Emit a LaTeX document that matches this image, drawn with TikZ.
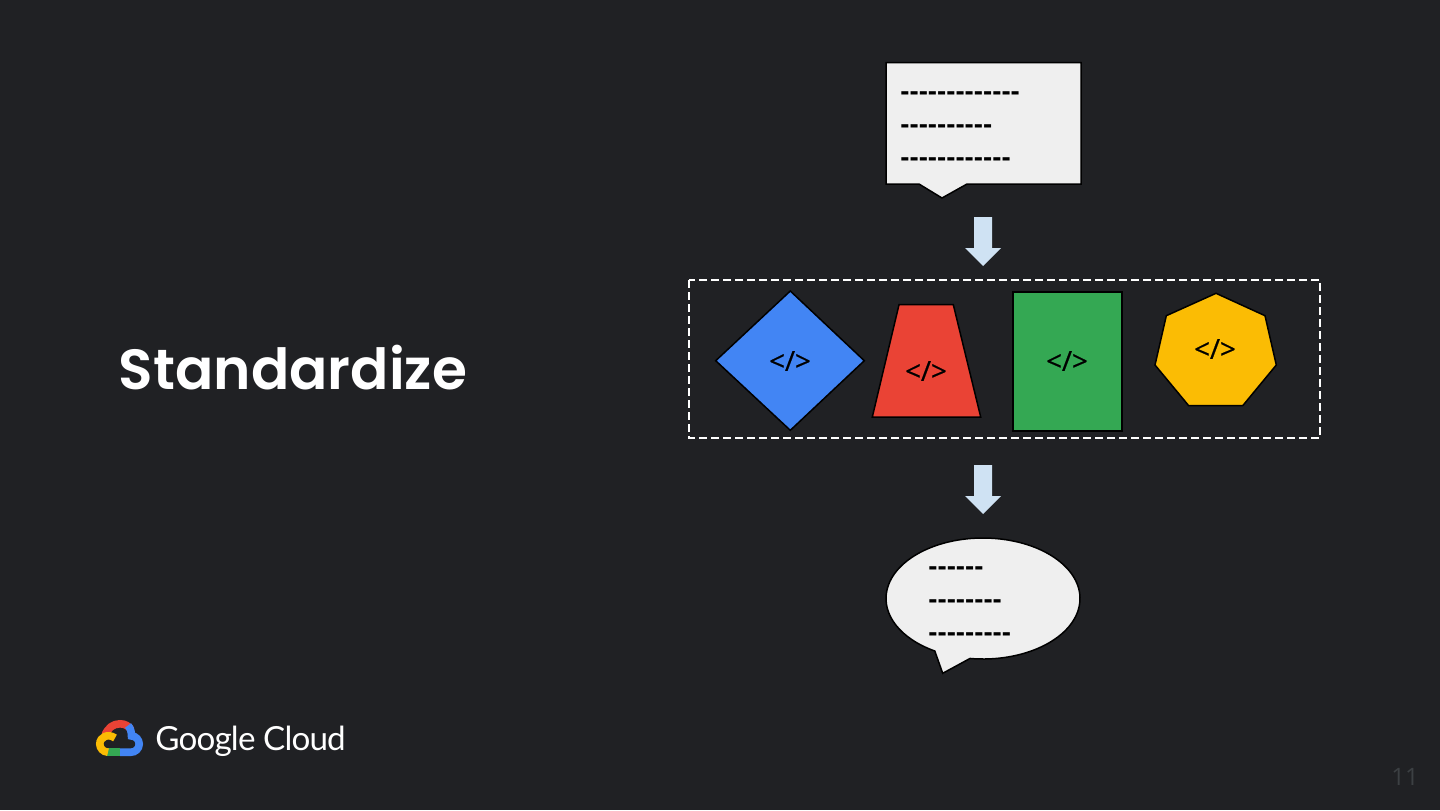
\documentclass[tikz,border=0pt]{standalone}
\usepackage{fontspec}
\setmainfont{Poppins}
\newfontfamily\titlefont{Poppins SemiBold}
\newfontfamily\dashfont{Liberation Sans Bold}
\newfontfamily\codefont[FakeBold=0.6]{Open Sans}
\newfontfamily\pagefont{Open Sans}
\newfontfamily\logofont[LetterSpace=-2.5]{Lato}
\definecolor{slidebg}{HTML}{202124}
\definecolor{bubblegrey}{HTML}{EFEFEF}
\definecolor{gblue}{HTML}{4285F4}
\definecolor{gred}{HTML}{EA4335}
\definecolor{ggreen}{HTML}{34A853}
\definecolor{gyellow}{HTML}{FBBC04}
\definecolor{arrowblue}{HTML}{CFE2F3}
\definecolor{pagegrey}{HTML}{3C4043}
\tikzset{
    outline/.style={draw=black, line width=0.75pt, line join=miter},
    bubble/.style={outline, fill=bubblegrey},
    dashtext/.style={inner sep=0pt, anchor=west, text=black, font=\dashfont\fontsize{13.8}{16}\selectfont},
    codetext/.style={inner sep=0pt, text=black, font=\codefont\fontsize{13.8}{16}\selectfont},
    downarrow/.style={fill=arrowblue},
    logostroke/.style={line width=3.8pt, line cap=butt},
}
\begin{document}
\begin{tikzpicture}[x=0.5pt, y=-0.5pt]
    \fill[slidebg] (0, 0) rectangle (1440, 810);
    \useasboundingbox (0, 0) rectangle (1440, 810);
    \node[inner sep=0pt, text=white, font=\titlefont\fontsize{28.3}{34}\selectfont] (title) at (293, 368) {Standardize};

    % request
    \draw[bubble] (886, 62.5) -- (1081, 62.5) -- (1081, 184) -- (967, 184) -- (942, 198) -- (919, 184) -- (886, 184) -- cycle;
    \foreach \y/\n/\txt in {96/reqa/-------------, 129/reqb/----------, 162/reqc/------------}
        \node[dashtext] (\n) at (900, \y) {\txt};

    % arrows
    \foreach \y in {0, 248}
        \fill[downarrow] (974, 217+\y) -- (992, 217+\y) -- (992, 248+\y) -- (1001, 248+\y) -- (983, 266+\y) -- (965, 248+\y) -- (974, 248+\y) -- cycle;

    % services
    \draw[white, line width=0.75pt, dash pattern=on 4pt off 2pt] (689, 280) rectangle (1320, 438);
    \draw[outline, fill=gblue] (790.3, 291) -- (864.3, 360.7) -- (790.3, 430.3) -- (715.7, 360.7) -- cycle;
    \draw[outline, fill=gred] (899, 304.7) -- (953.3, 304.7) -- (980.7, 417) -- (872.3, 417) -- cycle;
    \draw[outline, fill=ggreen, line width=1pt] (1013, 291.5) rectangle (1122, 430.7);
    \draw[outline, fill=gyellow] (1216, 293.3) -- (1265, 315.7) -- (1276.3, 365) -- (1242.7, 405.7) -- (1188.7, 405.7) -- (1155, 365) -- (1166.3, 315.7) -- cycle;
    \foreach \x/\y/\n in {790/361/codeblue, 926/371/codered, 1067/361/codegreen, 1215/349/codeyellow}
        \node[codetext] (\n) at (\x, \y) {</>};

    % response
    \draw[bubble] (942.7, 673.3) -- (970, 658.45) arc[start angle=97.7, end angle=-240.2, x radius=97, y radius=60.5] -- cycle;
    \foreach \y/\n/\txt in {571/resa/------, 604/resb/--------, 637/resc/---------}
        \node[dashtext] (\n) at (928, \y) {\txt};

    % logo
    \draw[logostroke, gred] (105, 735) .. controls (108, 728) and (113, 723.8) .. (120, 723.8) .. controls (125, 723.8) and (129, 726) .. (131, 730);
    \draw[logostroke, gblue] (128, 725.5) .. controls (130.5, 728) and (131.5, 732) .. (131.5, 736) .. controls (136, 736) and (139.2, 740) .. (139.2, 744) .. controls (139.2, 749) and (135, 752.2) .. (131, 752.2) -- (120, 752.2);
    \draw[logostroke, ggreen] (120, 752.2) -- (106, 752.2);
    \draw[logostroke, gyellow] (115, 738) .. controls (108, 733) and (99.8, 737) .. (99.8, 744) .. controls (99.8, 748) and (103, 752) .. (108, 752.2);
    \node[inner sep=0pt, anchor=west, text=white, font=\logofont\fontsize{16.6}{20}\selectfont] (logotext) at (155, 741) {Google Cloud};

    \node[inner sep=0pt, text=pagegrey, font=\pagefont\fontsize{12}{14}\selectfont] (pagenum) at (1405, 777) {11};
\end{tikzpicture}
\end{document}
